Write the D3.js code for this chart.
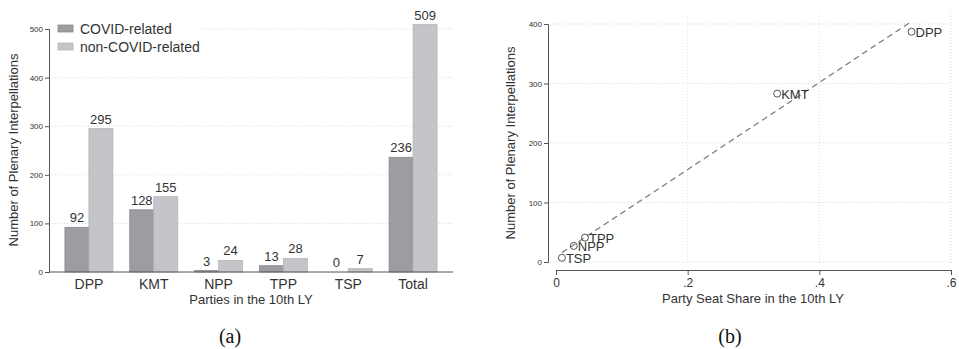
<!DOCTYPE html>
<html>
<head>
<meta charset="utf-8">
<script src="https://cdn.jsdelivr.net/npm/d3@7"></script>
<style>
  body { margin: 0; background: #fff; }
  svg { display: block; font-family: "Liberation Sans", Arial, sans-serif; }
</style>
</head>
<body>
<svg id="chart" width="959" height="349"></svg>
<script>
// panel (a) data
const parties = ["DPP", "KMT", "NPP", "TPP", "TSP", "Total"]
const covidCounts = [92, 128, 3, 13, 0, 236]
const nonCovidCounts = [295, 155, 24, 28, 7, 509]
const seriesNames = ["COVID-related", "non-COVID-related"]
const barTicks = [0, 100, 200, 300, 400, 500]

// panel (b) data
const scatterParties = ["DPP", "KMT", "NPP", "TPP", "TSP"]
const seatShares = [0.540, 0.336, 0.027, 0.044, 0.009]
const totalInterp = [387, 283, 27, 41, 7]
const xTicksB = [0, 0.2, 0.4, 0.6]
const yTicksB = [0, 100, 200, 300, 400]

const darkFill = "#9d9da1", lightFill = "#c4c5c9"
const textCol = "#333"

const svg = d3.select("#chart")

// ---------- panel (a) ----------
const gA = svg.append("g")
const yA = d3.scaleLinear().domain([0, 500]).range([272, 29])
const xA = d3.scaleBand().domain(parties).range([56.5, 445.5]).paddingInner(0.26).paddingOuter(0.13)
const xSub = d3.scaleBand().domain([0, 1]).range([0, xA.bandwidth()])

// gridlines
gA.append("g").selectAll("line").data(barTicks.slice(1)).enter().append("line")
  .attr("x1", 49).attr("x2", 453)
  .attr("y1", d => yA(d)).attr("y2", d => yA(d))
  .attr("stroke", "#cfcfcf").attr("stroke-width", 0.8).attr("stroke-dasharray", "1,2")

// legend background covers grid
gA.append("rect").attr("x", 51).attr("y", 18).attr("width", 150).attr("height", 40).attr("fill", "#fff")

const groups = gA.selectAll("g.grp").data(parties).enter().append("g")
  .attr("transform", d => "translate(" + xA(d) + ",0)")

groups.each(function(p, i) {
  const vals = [covidCounts[i], nonCovidCounts[i]]
  const g = d3.select(this)
  vals.forEach(function(v, j) {
    g.append("rect")
      .attr("x", xSub(j)).attr("width", xSub.bandwidth())
      .attr("y", yA(v)).attr("height", yA(0) - yA(v))
      .attr("fill", j == 0 ? darkFill : lightFill)
      .attr("stroke", j == 0 ? "#8a8a8e" : "#b4b5b9").attr("stroke-width", 0.8)
    g.append("text")
      .attr("x", xSub(j) + xSub.bandwidth() / 2).attr("y", yA(v) - 5)
      .attr("text-anchor", "middle").attr("font-size", 13).attr("fill", textCol)
      .text(v)
  })
})

// y axis
const axA = d3.axisLeft(yA).tickValues(barTicks).tickSize(4).tickPadding(2)
const axAg = gA.append("g").attr("transform", "translate(49,0)").call(axA)
axAg.select(".domain").attr("stroke", "#555")
axAg.selectAll(".tick line").attr("stroke", "#555")
axAg.selectAll("text").attr("font-size", 8).attr("fill", textCol).attr("font-family", "Liberation Sans, Arial, sans-serif")

// baseline
gA.append("line").attr("x1", 49).attr("x2", 453).attr("y1", yA(0)).attr("y2", yA(0))
  .attr("stroke", "#555").attr("stroke-width", 1)

// category labels
gA.selectAll("text.cat").data(parties).enter().append("text")
  .attr("x", d => xA(d) + xA.bandwidth() / 2).attr("y", 289)
  .attr("text-anchor", "middle").attr("font-size", 14).attr("fill", textCol)
  .text(d => d)

gA.append("text").attr("x", 251).attr("y", 304).attr("text-anchor", "middle")
  .attr("font-size", 13).attr("fill", textCol).text("Parties in the 10th LY")

gA.append("text").attr("transform", "translate(18,150) rotate(-90)")
  .attr("text-anchor", "middle").attr("font-size", 13).attr("fill", textCol)
  .text("Number of Plenary Interpellations")

// legend
seriesNames.forEach(function(n, i) {
  gA.append("rect").attr("x", 58).attr("y", 25 + i * 18).attr("width", 15).attr("height", 7)
    .attr("fill", i == 0 ? darkFill : lightFill).attr("stroke", i == 0 ? "#8a8a8e" : "#b4b5b9").attr("stroke-width", 0.8)
  gA.append("text").attr("x", 80).attr("y", 34 + i * 18).attr("font-size", 14).attr("fill", textCol).text(n)
})

gA.append("text").attr("x", 230).attr("y", 343).attr("text-anchor", "middle")
  .attr("font-family", "Liberation Serif, serif").attr("font-size", 20).attr("fill", "#111").text("(a)")

// ---------- panel (b) ----------
const gB = svg.append("g")
const xB = d3.scaleLinear().domain([0, 0.6]).range([556, 951])
const yB = d3.scaleLinear().domain([0, 400]).range([262, 24])

// grid
gB.append("g").selectAll("line").data(yTicksB).enter().append("line")
  .attr("x1", 550).attr("x2", 951).attr("y1", d => yB(d)).attr("y2", d => yB(d))
  .attr("stroke", "#cfcfcf").attr("stroke-width", 0.8).attr("stroke-dasharray", "1,2")
gB.append("g").selectAll("line").data(xTicksB.slice(1)).enter().append("line")
  .attr("x1", d => xB(d)).attr("x2", d => xB(d)).attr("y1", 13).attr("y2", 264)
  .attr("stroke", "#cfcfcf").attr("stroke-width", 0.8).attr("stroke-dasharray", "1,2")

// fitted line (least squares from the points)
const mx = d3.mean(seatShares), my = d3.mean(totalInterp)
let sxy = 0, sxx = 0
seatShares.forEach(function(x, i) { sxy += (x - mx) * (totalInterp[i] - my); sxx += (x - mx) * (x - mx) })
const slope = sxy / sxx, icpt = my - slope * mx
const xr = d3.extent(seatShares)
gB.append("line")
  .attr("x1", xB(xr[0])).attr("y1", yB(icpt + slope * xr[0]))
  .attr("x2", xB(xr[1])).attr("y2", yB(icpt + slope * xr[1]))
  .attr("stroke", "#777").attr("stroke-width", 1.2).attr("stroke-dasharray", "6,4")

// points
const pts = gB.selectAll("g.pt").data(scatterParties).enter().append("g")
  .attr("transform", (d, i) => "translate(" + xB(seatShares[i]) + "," + yB(totalInterp[i]) + ")")
pts.append("circle").attr("r", 3.5).attr("fill", "none").attr("stroke", "#555").attr("stroke-width", 1)
pts.append("text").attr("x", 4).attr("y", 5).attr("font-size", 13).attr("fill", textCol).text(d => d)

// axes
const ayB = d3.axisLeft(yB).tickValues(yTicksB).tickSize(4).tickPadding(2)
const ayBg = gB.append("g").attr("transform", "translate(548,0)").call(ayB)
const axB = d3.axisBottom(xB).tickValues(xTicksB).tickSize(5).tickPadding(3)
  .tickFormat(d => d == 0 ? "0" : d3.format(".1f")(d).replace(/^0/, ""))
const axBg = gB.append("g").attr("transform", "translate(0,270)").call(axB)
;[ayBg, axBg].forEach(function(g) {
  g.select(".domain").attr("stroke", "#555")
  g.selectAll(".tick line").attr("stroke", "#555")
  g.selectAll("text").attr("fill", textCol).attr("font-family", "Liberation Sans, Arial, sans-serif")
})
ayBg.selectAll("text").attr("font-size", 8)
axBg.selectAll("text").attr("font-size", 12)

gB.append("text").attr("x", 753).attr("y", 303).attr("text-anchor", "middle")
  .attr("font-size", 13).attr("fill", textCol).text("Party Seat Share in the 10th LY")
gB.append("text").attr("transform", "translate(515,143) rotate(-90)")
  .attr("text-anchor", "middle").attr("font-size", 13).attr("fill", textCol)
  .text("Number of Plenary Interpellations")

gB.append("text").attr("x", 730).attr("y", 343).attr("text-anchor", "middle")
  .attr("font-family", "Liberation Serif, serif").attr("font-size", 20).attr("fill", "#111").text("(b)")
</script>
</body>
</html>
